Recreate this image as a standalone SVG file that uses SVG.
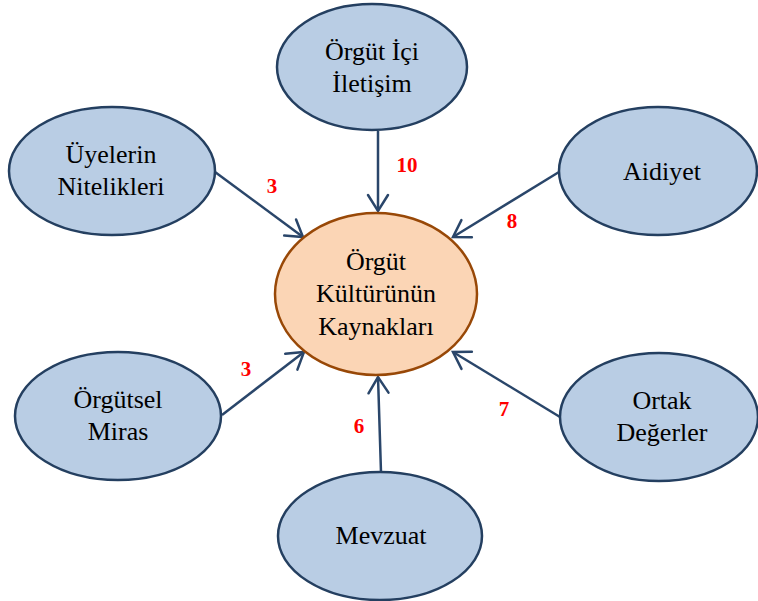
<svg xmlns="http://www.w3.org/2000/svg" width="758" height="601" viewBox="0 0 758 601">
<defs>
<style>
.n{fill:#b9cde4;stroke:#243f60;stroke-width:2.5}
.c{fill:#fbd5b5;stroke:#984807;stroke-width:2.5}
text{font-family:'Liberation Serif','Times New Roman',Tinos,'DejaVu Serif',serif}
.t{font-size:26px;fill:#000;text-anchor:middle}
.l{font-size:21px;font-weight:bold;fill:#ff0000;text-anchor:middle}
.e{stroke:#2a466a;stroke-width:2.5;fill:none;marker-end:url(#ah)}
</style>
<marker id="ah" markerUnits="userSpaceOnUse" viewBox="-20 -14 24 28" markerWidth="24" markerHeight="28" refX="0" refY="0" orient="auto">
<path d="M-16,-10 L0,0 L-16,10" fill="none" stroke="#2a466a" stroke-width="2.5" stroke-linecap="round" stroke-linejoin="miter"/>
</marker>
</defs>
<rect width="758" height="601" fill="#ffffff"/>
<g id="connectors">
<line class="e" x1="378" y1="131" x2="378" y2="211"/>
<line class="e" x1="559" y1="172" x2="453" y2="237"/>
<line class="e" x1="215" y1="172" x2="303" y2="237"/>
<line class="e" x1="222" y1="415" x2="304" y2="352"/>
<line class="e" x1="381" y1="472" x2="378" y2="377"/>
<line class="e" x1="560" y1="417" x2="453" y2="352"/>
<text class="l" x="407" y="172" font-family="Liberation Serif, serif">10</text>
<text class="l" x="512" y="228" font-family="Liberation Serif, serif">8</text>
<text class="l" x="272" y="193" font-family="Liberation Serif, serif">3</text>
<text class="l" x="246" y="376" font-family="Liberation Serif, serif">3</text>
<text class="l" x="359" y="433" font-family="Liberation Serif, serif">6</text>
<text class="l" x="504" y="416" font-family="Liberation Serif, serif">7</text>
</g>
<g id="center">
<ellipse class="c" cx="376" cy="294" rx="101" ry="81"/>
<text class="t" x="376" y="270" font-family="Liberation Serif, serif">Örgüt</text>
<text class="t" x="376" y="302" font-family="Liberation Serif, serif">Kültürünün</text>
<text class="t" x="376" y="335" font-family="Liberation Serif, serif">Kaynakları</text>
</g>
<g id="orgut-ici-iletisim">
<ellipse class="n" cx="372" cy="67" rx="95" ry="63"/>
<text class="t" x="372" y="60" font-family="Liberation Serif, serif">Örgüt İçi</text>
<text class="t" x="372" y="92" font-family="Liberation Serif, serif">İletişim</text>
</g>
<g id="uyelerin-nitelikleri">
<ellipse class="n" cx="112" cy="171" rx="103" ry="64"/>
<text class="t" x="111" y="163" font-family="Liberation Serif, serif">Üyelerin</text>
<text class="t" x="111" y="195" font-family="Liberation Serif, serif">Nitelikleri</text>
</g>
<g id="aidiyet">
<ellipse class="n" cx="658" cy="171" rx="99" ry="64"/>
<text class="t" x="662" y="180" font-family="Liberation Serif, serif">Aidiyet</text>
</g>
<g id="orgutsel-miras">
<ellipse class="n" cx="118" cy="416" rx="103" ry="64"/>
<text class="t" x="118" y="408" font-family="Liberation Serif, serif">Örgütsel</text>
<text class="t" x="118" y="440" font-family="Liberation Serif, serif">Miras</text>
</g>
<g id="ortak-degerler">
<ellipse class="n" cx="659" cy="417" rx="99" ry="64"/>
<text class="t" x="662" y="409" font-family="Liberation Serif, serif">Ortak</text>
<text class="t" x="662" y="441" font-family="Liberation Serif, serif">Değerler</text>
</g>
<g id="mevzuat">
<ellipse class="n" cx="380" cy="536" rx="102" ry="64"/>
<text class="t" x="381" y="544" font-family="Liberation Serif, serif">Mevzuat</text>
</g>
</svg>
